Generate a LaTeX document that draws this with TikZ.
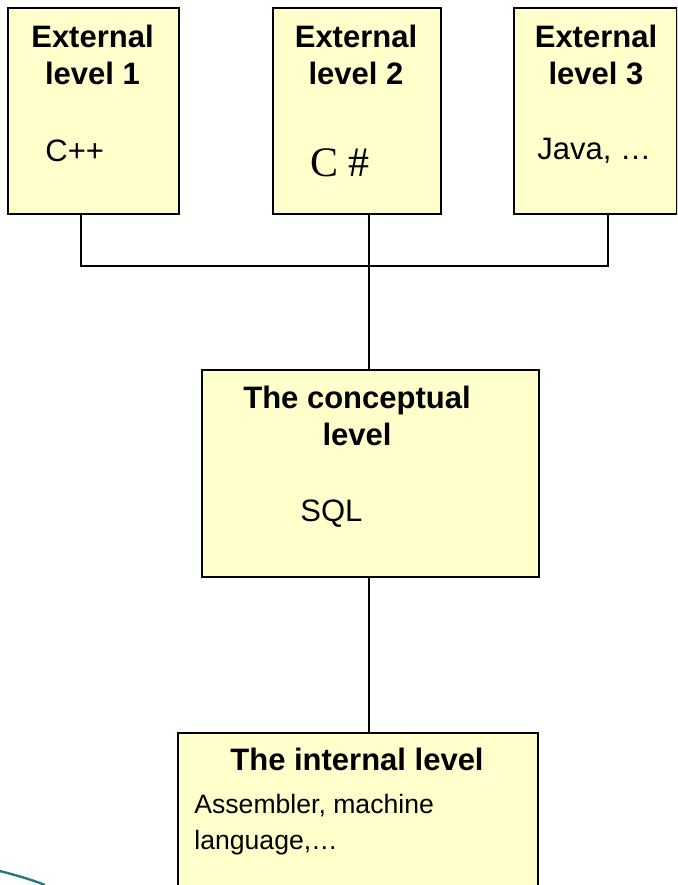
\documentclass[tikz,border=0pt]{standalone}
\usepackage{fontspec}
\setmainfont{Liberation Sans}
\newfontfamily\serifcs{Liberation Serif}
\definecolor{boxfill}{RGB}{255,255,204}
\definecolor{arcteal}{RGB}{40,120,130}

\begin{document}
\begin{tikzpicture}[x=0.5pt, y=-0.5pt,
    box/.style={draw=black, fill=boxfill, line width=1pt, anchor=north west, inner sep=0pt},
    title/.style={font=\fontsize{15.5}{18.5}\selectfont\bfseries, align=center, inner sep=0pt},
    body/.style={font=\fontsize{15.5}{18}\selectfont, align=left, anchor=west, inner sep=0pt},
    link/.style={draw=black, line width=1pt}]
        \clip (0,0) rectangle (677,885); % рамка
        % внешние уровни
        \node[box, minimum width=171*0.5pt, minimum height=206*0.5pt] (ext1) at (7,7) {};
        \node[box, minimum width=168*0.5pt, minimum height=206*0.5pt] (ext2) at (272,7) {};
        \node[box, minimum width=163*0.5pt, minimum height=206*0.5pt] (ext3) at (513,7) {};
        \node[title] (t1) at (92.5,55) {External\\level 1};
        \node[title] (t2) at (356,55) {External\\level 2};
        \node[title] (t3) at (596,55) {External\\level 3};
        \node[body] (b1) at (45,151) {C++};
        \node[body, font=\serifcs\fontsize{21}{24}\selectfont] (b2) at (310,163) {C \#};
        \node[body] (b3) at (537,151) {Java, \dots};
        % концептуальный уровень
        \node[box, minimum width=337*0.5pt, minimum height=207*0.5pt] (concept) at (201,369) {};
        \node[title] (tc) at (357,416) {The conceptual\\level};
        \node[body] (bc) at (300,514) {SQL};
        % внутренний уровень
        \node[box, minimum width=360*0.5pt, minimum height=180*0.5pt] (internal) at (177,732) {};
        \node[title] (ti) at (357,759) {The internal level};
        \node[body, font=\fontsize{13.3}{18}\selectfont] (bi) at (194,825) {Assembler, machine\\language,\dots};
        % соединения
        \coordinate (j1) at (81,266);
        \coordinate (j2) at (369,266);
        \coordinate (j3) at (608,266);
        \draw[link] (ext1.south -| j1) -- (j1) -- (j3) -- (ext3.south -| j3);
        \draw[link] (ext2.south -| j2) -- (j2) -- (concept.north -| j2);
        \draw[link] (concept.south -| j2) -- (internal.north -| j2);
        \draw[arcteal, line width=1.2pt] (0,871) .. controls (15,875) and (30,879) .. (45,885); % дуга
    \end{tikzpicture}
\end{document}
